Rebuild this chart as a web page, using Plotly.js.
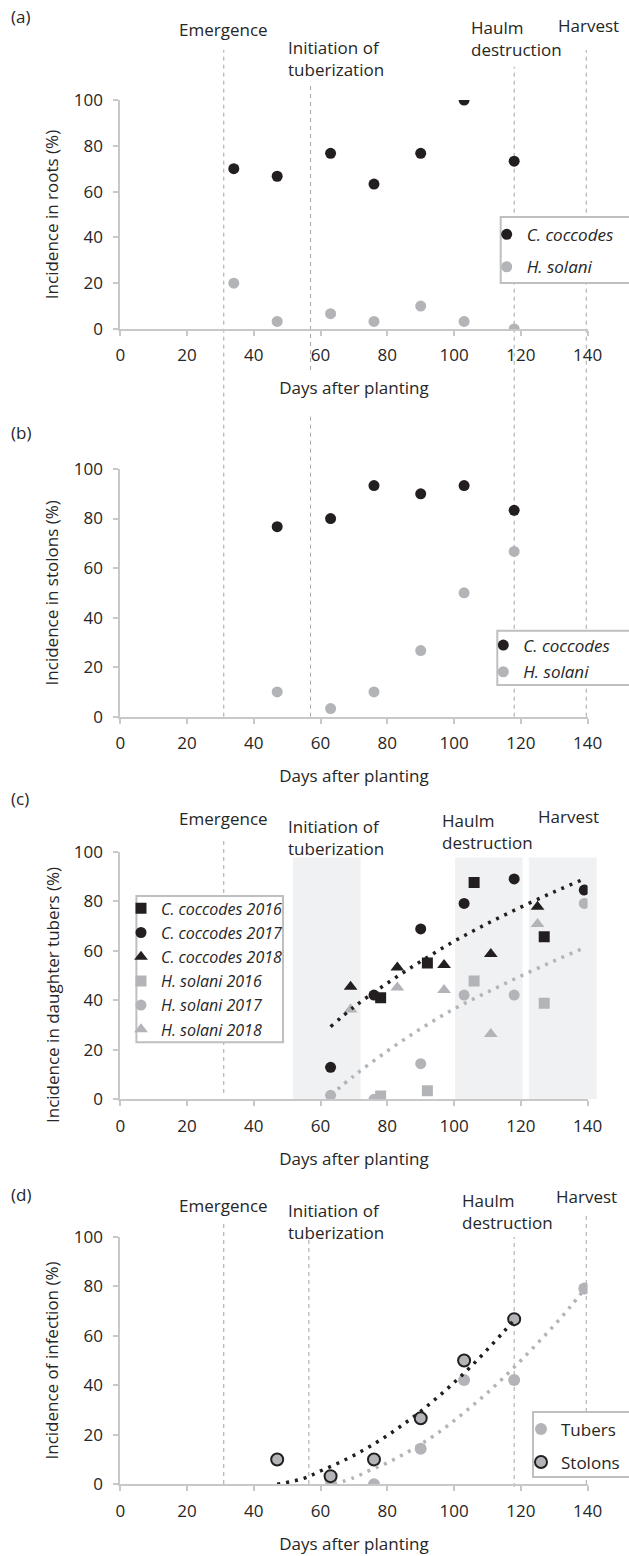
<!DOCTYPE html>
<html><head><meta charset="utf-8">
<script src="https://cdn.plot.ly/plotly-3.0.1.min.js"></script>
<style>html,body{margin:0;padding:0;background:#fff;}#chart{width:629px;height:1556px;}</style>
</head><body><div id="chart"></div>
<script>
// ---------- data ----------
// (a) roots
const daysRoots = [34, 47, 63, 76, 90, 103, 118];
const rootsCcoccodes = [70, 66.7, 76.7, 63.3, 76.7, 100, 73.3];
const rootsHsolani = [20, 3.3, 6.7, 3.3, 10, 3.3, 0];
// (b) stolons
const daysStolons = [47, 63, 76, 90, 103, 118];
const stolonsCcoccodes = [76.7, 80, 93.3, 90, 93.3, 83.3];
const stolonsHsolani = [10, 3.3, 10, 26.7, 50, 66.7];
// (c) daughter tubers
const days2016 = [78, 92, 106, 127];
const cc2016 = [41, 55, 87.6, 65.7];
const hs2016 = [1.3, 3.5, 47.8, 38.8];
const days2017 = [63, 76, 90, 103, 118, 139];
const cc2017 = [12.9, 42.1, 68.8, 79.1, 89, 84.5];
const hs2017 = [1.6, 0, 14.4, 42.1, 42.1, 79.1];
const days2018 = [69, 83, 97, 111, 125];
const cc2018 = [45.5, 53.2, 54.2, 58.7, 77.8];
const hs2018 = [36.3, 45.2, 44.1, 26.4, 70.8];
const trendDaysC = [63, 70, 80, 90, 100, 110, 120, 130, 139];
const trendCcC = [29.3, 37.3, 46.9, 55.7, 63.8, 71, 77.6, 83.8, 89];
const trendHsC = [1.6, 9.5, 19.5, 28.5, 36.5, 43.3, 49.8, 55.9, 61.2];
// (d) H. solani infection
const daysTubers = [63, 76, 90, 103, 118, 139];
const tubers = [1.6, 0, 14.4, 42.1, 42.1, 79.1];
const daysStolonsD = [47, 63, 76, 90, 103, 118];
const stolons = [10, 3.3, 10, 26.7, 50, 66.7];
const trendDaysStolons = [47, 55, 60, 65, 70, 75, 80, 85, 90, 95, 100, 105, 110, 115, 118];
const trendStolons = [0, 2.4, 5.4, 8.4, 11.7, 15.5, 19.7, 24.4, 29.5, 35.1, 41.1, 47.5, 54.5, 61.8, 66.4];
const trendDaysTubers = [64, 70, 75, 80, 85, 90, 95, 100, 105, 110, 115, 120, 125, 130, 135, 139];
const trendTubers = [0, 2.7, 5.8, 8.7, 12.2, 16.2, 20.6, 25.7, 31.2, 37.0, 43.3, 50.0, 57.0, 64.2, 72.0, 78.6];
// crop stages (days after planting)
const emergenceDay = 31;
const tuberizationDay = 57;
const tuberizationDayD = 56.5;
const haulmDay = 118;
const harvestDay = 139.6;
const shadedPeriods = [[51.7, 72], [100.3, 120.5], [122.4, 142.7]];
const xTicks = [0, 20, 40, 60, 80, 100, 120, 140];
const yTicks = [0, 20, 40, 60, 80, 100];

// ---------- layout helpers ----------
const W = 629, H = 1556;
const PX = v => v / W;
const PY = v => 1 - v / H;
const X0 = 120.3, X1 = 587.6;
const dayPaper = d => PX(X0 + (X1 - X0) * d / 140);
const FONT = "Open Sans, Noto Sans, sans-serif";
const TXT = '#262626';
const BLACK = '#231f20';
const GREY = '#b3b4b7';
const AXC = '#c8c8c8';

const panels = [
  {top: 100, bottom: 329, title: 'Incidence in roots (%)'},
  {top: 469, bottom: 716.7, title: 'Incidence in stolons (%)'},
  {top: 851.7, bottom: 1099.3, title: ''},
  {top: 1236.7, bottom: 1484.3, title: 'Incidence of infection (%)'}
];

const layout = {
  width: W, height: H,
  margin: {l: 0, r: 0, t: 0, b: 0},
  paper_bgcolor: '#fff', plot_bgcolor: 'rgba(0,0,0,0)',
  font: {family: FONT, size: 17, color: TXT},
  showlegend: true,
  shapes: [], annotations: []
};

panels.forEach((p, i) => {
  const n = i === 0 ? '' : String(i + 1);
  layout['xaxis' + n] = {
    domain: [PX(X0), PX(X1)], range: [0, 140], anchor: 'y' + n,
    tickvals: xTicks, showgrid: false, zeroline: false,
    showline: true, linecolor: AXC, linewidth: 2,
    ticks: 'outside', ticklen: 5, tickwidth: 2, tickcolor: AXC, ticklabelstandoff: 5,
    tickfont: {family: FONT, size: 17, color: TXT},
    title: {text: 'Days after planting', font: {family: FONT, size: 17, color: TXT}, standoff: 17},
    fixedrange: true
  };
  layout['yaxis' + n] = {
    domain: [PY(p.bottom), PY(p.top)], range: [0, 100], anchor: 'x' + n,
    tickvals: yTicks, showgrid: false, zeroline: false,
    showline: true, linecolor: AXC, linewidth: 2,
    ticks: 'outside', ticklen: 5, tickwidth: 2, tickcolor: AXC, ticklabelstandoff: 7,
    tickfont: {family: FONT, size: 17, color: TXT},
    title: {text: p.title, font: {family: FONT, size: 17, color: TXT}, standoff: 11},
    fixedrange: true
  };
});

// legends
const legBase = {bgcolor: 'rgba(0,0,0,0)', borderwidth: 0, xanchor: 'left', yanchor: 'top',
  traceorder: 'grouped', itemclick: false, itemdoubleclick: false};
layout.legend = Object.assign({}, legBase, {x: PX(486.7), y: PY(216.8), tracegroupgap: 7.3,
  font: {family: FONT, size: 17, color: TXT, style: 'italic'}});
layout.legend2 = Object.assign({}, legBase, {x: PX(483.3), y: PY(627.5), tracegroupgap: 1.6,
  font: {family: FONT, size: 17, color: TXT, style: 'italic'}});
layout.legend3 = Object.assign({}, legBase, {x: PX(121), y: PY(891.4), tracegroupgap: 0.4,
  font: {family: FONT, size: 16, color: TXT, style: 'italic'}});
layout.legend4 = Object.assign({}, legBase, {x: PX(521), y: PY(1411.5), tracegroupgap: 7.9,
  font: {family: FONT, size: 17, color: TXT}});

// legend boxes
const boxes = [[500.7, 217, 640, 283], [497.3, 630.7, 640, 685], [136.4, 896, 283, 1042.3], [533, 1412, 640, 1477]];
boxes.forEach(b => layout.shapes.push({type: 'rect', xref: 'paper', yref: 'paper', layer: 'above',
  x0: PX(b[0]), x1: PX(b[2]), y0: PY(b[3]), y1: PY(b[1]), fillcolor: '#fff', line: {color: '#bfbfbf', width: 2}}));

// shaded periods in (c)
shadedPeriods.forEach(s => layout.shapes.push({type: 'rect', xref: 'paper', yref: 'y3', layer: 'below',
  x0: dayPaper(s[0]), x1: dayPaper(s[1]), y0: 0, y1: 97.7, fillcolor: '#f0f1f3', line: {width: 0}}));

// dashed stage lines
const dash = {color: '#a6a6a6', width: 1, dash: '4px,4px'};
function vline(xref, d, topPx, botPx) {
  layout.shapes.push({type: 'line', xref: xref, yref: 'paper', layer: 'below', x0: d, x1: d,
    y0: PY(botPx), y1: PY(topPx), line: dash});
}
vline('x', emergenceDay, 50, 716.7);
vline('x', tuberizationDay, 81.7, 370);
vline('x', tuberizationDay, 413.3, 716.7);
vline('x', haulmDay, 66.7, 716.7);
vline('x', harvestDay, 50, 716.7);
vline('x3', emergenceDay, 838, 1093);
vline('x4', emergenceDay, 1223, 1484);
vline('x4', tuberizationDayD, 1240, 1484);
vline('x4', haulmDay, 1237, 1487);
vline('x4', harvestDay, 1213, 1484);

// text annotations
function ann(text, xPx, yPx, xanchor, extra) {
  layout.annotations.push(Object.assign({text: text, xref: 'paper', yref: 'paper', x: PX(xPx), y: PY(yPx),
    xanchor: xanchor, yanchor: 'middle', align: 'left', showarrow: false,
    font: {family: FONT, size: 17, color: TXT}}, extra || {}));
}
ann('(a)', 9, 17, 'left');
ann('(b)', 9, 432.5, 'left');
ann('(c)', 9, 798, 'left');
ann('(d)', 9, 1194, 'left');
// y title of (c), centred lower than its plot as in the original
ann('Incidence in daughter tubers (%)', 52, 995, 'center', {textangle: -90, align: 'center'});
// (a)
ann('Emergence', 224, 29, 'center');
ann('Initiation of<br>tuberization', 285.6, 59, 'left');
ann('Haulm<br>destruction', 468.5, 38.5, 'left');
ann('Harvest', 555.5, 26, 'left');
// (c)
ann('Emergence', 224, 818.3, 'center');
ann('Initiation of<br>tuberization', 285.6, 837.2, 'left');
ann('Haulm<br>destruction', 440, 831, 'left');
ann('Harvest', 535.5, 816.7, 'left');
// (d)
ann('Emergence', 224, 1205, 'center');
ann('Initiation of<br>tuberization', 285.6, 1221.7, 'left');
ann('Haulm<br>destruction', 460.4, 1211.3, 'left');
ann('Harvest', 554.3, 1196, 'left');

// ---------- traces ----------
function pts(x, y, name, color, sym, size, xa, ya, leg, group, extra) {
  const t = {type: 'scatter', mode: 'markers', x: x, y: y, name: name, xaxis: xa, yaxis: ya,
    legend: leg, legendgroup: group, hoverinfo: 'skip',
    marker: {color: color, symbol: sym, size: size, line: {width: 0}}};
  return Object.assign(t, extra || {});
}
function trend(x, y, color, xa, ya) {
  return {type: 'scatter', mode: 'lines', x: x, y: y, xaxis: xa, yaxis: ya, showlegend: false,
    hoverinfo: 'skip', line: {color: color, width: 3.5, dash: '3px,6px', shape: 'spline'}};
}
const data = [
  pts(daysRoots, rootsCcoccodes, 'C. coccodes', BLACK, 'circle', 11, 'x', 'y', 'legend', 'a1'),
  pts(daysRoots, rootsHsolani, 'H. solani', GREY, 'circle', 11, 'x', 'y', 'legend', 'a2'),
  pts(daysStolons, stolonsCcoccodes, 'C. coccodes', BLACK, 'circle', 11, 'x2', 'y2', 'legend2', 'b1'),
  pts(daysStolons, stolonsHsolani, 'H. solani', GREY, 'circle', 11, 'x2', 'y2', 'legend2', 'b2'),
  pts(days2016, cc2016, 'C. coccodes 2016', BLACK, 'square', 11, 'x3', 'y3', 'legend3', 'c1'),
  pts(days2017, cc2017, 'C. coccodes 2017', BLACK, 'circle', 11, 'x3', 'y3', 'legend3', 'c2'),
  pts(days2018, cc2018, 'C. coccodes 2018', BLACK, 'triangle-up', 12, 'x3', 'y3', 'legend3', 'c3'),
  pts(days2016, hs2016, 'H. solani 2016', GREY, 'square', 11, 'x3', 'y3', 'legend3', 'c4'),
  pts(days2017, hs2017, 'H. solani 2017', GREY, 'circle', 11, 'x3', 'y3', 'legend3', 'c5'),
  pts(days2018, hs2018, 'H. solani 2018', GREY, 'triangle-up', 12, 'x3', 'y3', 'legend3', 'c6'),
  trend(trendDaysC, trendCcC, BLACK, 'x3', 'y3'),
  trend(trendDaysC, trendHsC, GREY, 'x3', 'y3'),
  pts(daysTubers, tubers, 'Tubers', GREY, 'circle', 12, 'x4', 'y4', 'legend4', 'd1'),
  pts(daysStolonsD, stolons, 'Stolons', GREY, 'circle', 12, 'x4', 'y4', 'legend4', 'd2',
    {marker: {color: GREY, symbol: 'circle', size: 12, line: {color: BLACK, width: 2}}}),
  trend(trendDaysStolons, trendStolons, BLACK, 'x4', 'y4'),
  trend(trendDaysTubers, trendTubers, GREY, 'x4', 'y4')
];

Plotly.newPlot('chart', data, layout, {staticPlot: true, displayModeBar: false});
</script></body></html>
